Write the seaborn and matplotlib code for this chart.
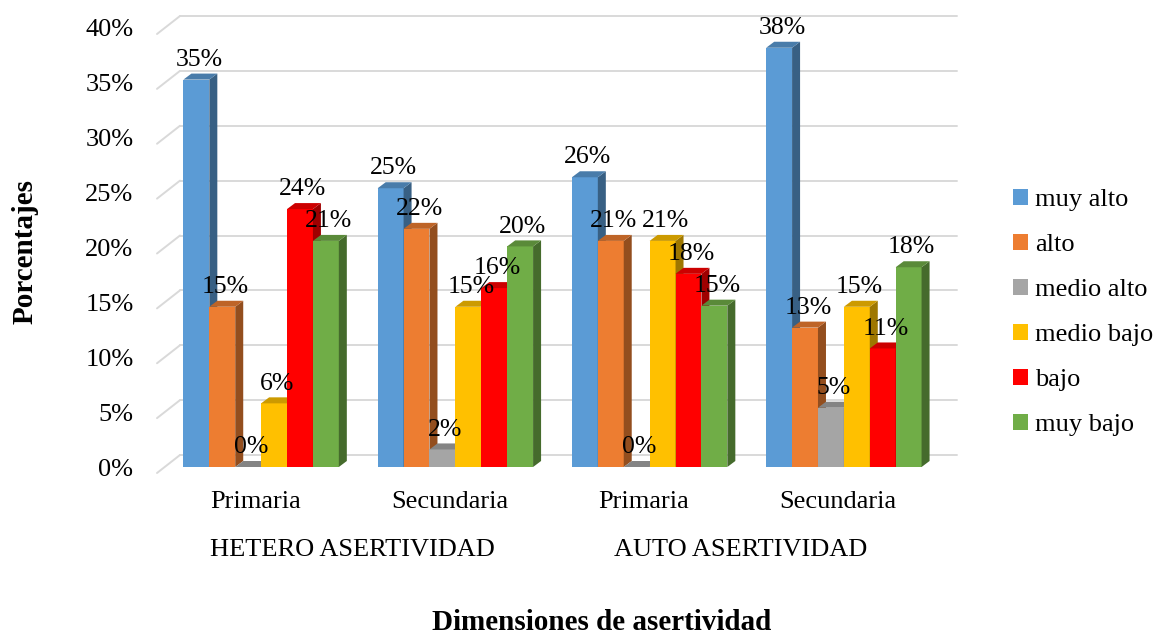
import numpy as np
import pandas as pd
import matplotlib
matplotlib.use("Agg")
import matplotlib.pyplot as plt
import matplotlib.colors as mcolors
import matplotlib.transforms as mtransforms
from matplotlib.patches import Polygon
import seaborn as sns

# ------------------- data -------------------
categorias = ["HETERO|Primaria", "HETERO|Secundaria", "AUTO|Primaria", "AUTO|Secundaria"]
tick_labels = ["Primaria", "Secundaria", "Primaria", "Secundaria"]
grupos = ["HETERO ASERTIVIDAD", "AUTO ASERTIVIDAD"]
niveles = ["muy alto", "alto", "medio alto", "medio bajo", "bajo", "muy bajo"]

muy_alto = [35.3, 25.4, 26.4, 38.2]
alto = [14.6, 21.7, 20.6, 12.7]
medio_alto = [0.0, 1.6, 0.0, 5.4]
medio_bajo = [5.8, 14.6, 20.6, 14.6]
bajo = [23.5, 16.3, 17.6, 10.8]
muy_bajo = [20.6, 20.1, 14.7, 18.2]

colores = ["#5B9BD5", "#ED7D31", "#A5A5A5", "#FFC000", "#FF0000", "#70AD47"]

series = [muy_alto, alto, medio_alto, medio_bajo, bajo, muy_bajo]
df = pd.DataFrame([
    {"cat": c, "nivel": n, "valor": s[i]}
    for n, s in zip(niveles, series)
    for i, c in enumerate(categorias)
])

# ------------------- figure -------------------
sns.set_style("white")
plt.rcParams["font.family"] = ["Liberation Serif", "DejaVu Serif"]
plt.rcParams["text.color"] = "black"
plt.rcParams["xtick.color"] = "black"
plt.rcParams["ytick.color"] = "black"

fig = plt.figure(figsize=(11.56, 6.34), dpi=100)
ax_l, ax_r, ax_b, ax_t = 164, 941, 467, 28
W, H = 1156, 634
ax = fig.add_axes([ax_l / W, 1 - ax_b / H, (ax_r - ax_l) / W, (ax_b - ax_t) / H])

sns.barplot(data=df, x="cat", y="valor", hue="nivel", order=categorias,
            hue_order=niveles, palette=colores, width=0.8, saturation=1,
            linewidth=0, ax=ax, legend=False)

ax.set_ylim(0, 40)
ax.set_xlim(-0.5, 3.5)
for sp in ax.spines.values():
    sp.set_visible(False)

# back wall grid lines with short diagonals (3D look)
axw, axh = ax_r - ax_l, ax_b - ax_t
bx, by = 16 / axw, 12 / axh
fx, fy = -7 / axw, -6 / axh
for v in range(0, 41, 5):
    yy = v / 40
    ax.plot([bx, 1 + bx], [yy + by, yy + by], transform=ax.transAxes,
            color="#D9D9D9", lw=1.4, zorder=0, clip_on=False)
    ax.plot([fx, bx], [yy + fy, yy + by], transform=ax.transAxes,
            color="#D9D9D9", lw=1.4, zorder=0, clip_on=False)

# 3D faces for each bar, built from the bar geometry
dx = 8 / (axw / 4)
dy = 6 / (axh / 40)
bars = []
for cont, col in zip(ax.containers, colores):
    for rect in cont:
        bars.append((rect.get_x(), rect, col))
bars.sort(key=lambda t: t[0])
for i, (_, rect, col) in enumerate(bars):
    x0, w, h = rect.get_x(), rect.get_width(), rect.get_height()
    x1 = x0 + w
    rgb = np.array(mcolors.to_rgb(col))
    z = 2 + i * 0.01
    rect.set_zorder(z)
    side = Polygon([(x1, 0), (x1 + dx, dy), (x1 + dx, h + dy), (x1, h)],
                   closed=True, facecolor=rgb * 0.62, edgecolor="none", zorder=z + 0.002)
    top = Polygon([(x0, h), (x1, h), (x1 + dx, h + dy), (x0 + dx, h + dy)],
                  closed=True, facecolor=rgb * 0.8, edgecolor="none", zorder=z + 0.003)
    ax.add_patch(side)
    ax.add_patch(top)
    ax.annotate(f"{round(h)}%", (x0 + w / 2, h + dy), xytext=(2, 2),
                textcoords="offset points", ha="center", va="bottom",
                fontsize=18.5, color="black", zorder=10, annotation_clip=False)

# ticks
ax.set_yticks(range(0, 41, 5))
ax.set_yticklabels([f"{v}%" for v in range(0, 41, 5)])
ax.set_xticks(range(4))
ax.set_xticklabels(tick_labels)
ax.tick_params(axis="y", length=0, pad=22, labelsize=19)
ax.tick_params(axis="x", length=0, pad=17, labelsize=19)
ax.set_xlabel("")
ax.set_ylabel("")
ax.grid(False)

shift = mtransforms.ScaledTranslation(-6 / 100, 0, fig.dpi_scale_trans)
for lab in ax.get_xticklabels():
    lab.set_transform(lab.get_transform() + shift)

trans = mtransforms.blended_transform_factory(ax.transData, ax.transAxes) + shift
ax.text(0.5, -(550 - ax_b) / axh, grupos[0], transform=trans, ha="center", va="center", fontsize=19)
ax.text(2.5, -(550 - ax_b) / axh, grupos[1], transform=trans, ha="center", va="center", fontsize=19)

fig.text(602 / W, 1 - 622 / H, "Dimensiones de asertividad", ha="center", va="center",
         fontsize=21, fontweight="bold")
fig.text(25 / W, 1 - 252 / H, "Porcentajes", ha="center", va="center", rotation=90,
         fontsize=21, fontweight="bold")

# legend
handles = [plt.Rectangle((0, 0), 1, 1, facecolor=c, edgecolor="none") for c in colores]
fig.legend(handles, niveles, loc="upper left", bbox_to_anchor=(1013 / W, 1 - 189 / H),
           frameon=False, fontsize=19, handlelength=0.55, handleheight=0.55,
           handletextpad=0.3, labelspacing=0.86, borderpad=0, borderaxespad=0)

fig.savefig("out.png", dpi=100)
